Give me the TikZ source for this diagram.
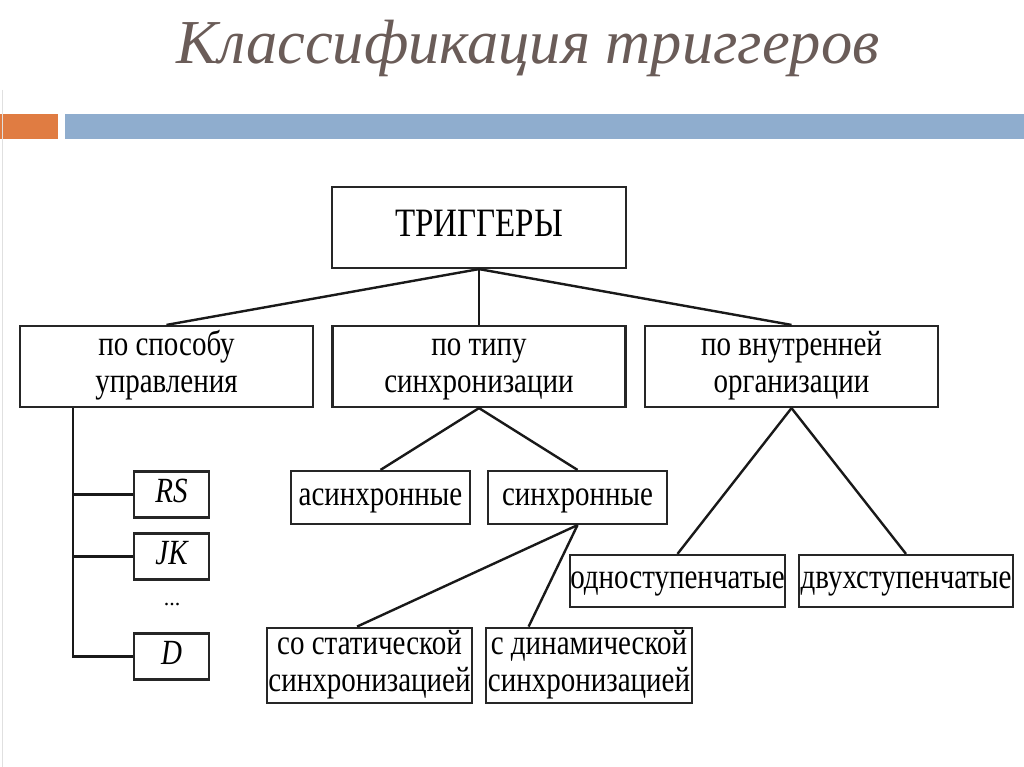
\documentclass[tikz,border=0pt]{standalone}
\usepackage{fontspec}
\usepackage{graphicx}
\setmainfont{Liberation Serif}
\usetikzlibrary{calc}
\definecolor{titlegray}{RGB}{106,92,88}
\definecolor{barorange}{RGB}{224,124,66}
\definecolor{barblue}{RGB}{143,173,206}
% box texts are a little taller than the font
\newcommand{\tall}[1]{\scalebox{1}[1.22]{\begin{tabular}{@{}c@{}}#1\end{tabular}}}
\tikzstyle{box}=[draw=black!85,line width=2.2pt,fill=white,inner sep=0pt,align=center,font=\fontsize{29}{31}\selectfont]
\tikzstyle{bigbox}=[box,minimum width=293pt,minimum height=81pt]
\tikzstyle{letterbox}=[box,minimum width=75pt,minimum height=46pt,font=\fontsize{29}{31}\selectfont\itshape]
\tikzstyle{kindbox}=[box,minimum width=179pt,minimum height=53pt]
\tikzstyle{link}=[draw=black!90,line width=2.4pt]

\begin{document}
\begin{tikzpicture}[x=1pt,y=-1pt]
	\useasboundingbox (0,0) rectangle (1024,767);
	\fill[white] (0,0) rectangle (1024,767);
	% Title and the two bars below it
	\node[anchor=base,text=titlegray,font=\fontsize{62.5}{72}\selectfont\itshape] (title) at (528,64) {Классификация триггеров};
	\fill[barorange] (0,114) rectangle (58,139);
	\fill[barblue] (65,114) rectangle (1024,139);
	\draw[black!12,line width=1pt] (2,90) -- (2,767);

	% First we draw the boxes
	\node[bigbox,minimum width=294pt,font=\fontsize{33}{35}\selectfont] (trig) at (479,227.5) {\tall{ТРИГГЕРЫ}};
	\foreach \pos/\name/\txt in {{(166.5,366.5)/upr/{по способу\\управления}},
		{(479,366.5)/sync/{по типу\\синхронизации}},
		{(791.5,366.5)/org/{по внутренней\\организации}}}
	\node[bigbox] (\name) at \pos {\tall{\txt}};

	\foreach \pos/\name/\txt in {{(171.5,494.5)/rs/RS}, {(171.5,556.5)/jk/JK}, {(171.5,656.5)/d/D}}
	\node[letterbox] (\name) at \pos {\tall{\txt}};
	\node[font=\fontsize{22}{24}\selectfont] (dots) at (172,605) {...};

	\foreach \pos/\name/\txt in {{(380.5,497.5)/async/асинхронные}, {(577.5,497.5)/syn/синхронные}}
	\node[kindbox] (\name) at \pos {\tall{\txt}};
	\node[box,minimum width=205pt,minimum height=75pt] (stat) at (369.5,665.5) {\tall{со статической\\синхронизацией}};
	\node[box,minimum width=206pt,minimum height=75pt] (dyn) at (589,665.5) {\tall{с динамической\\синхронизацией}};
	\node[kindbox,minimum width=213pt,minimum height=52pt] (one) at (677.5,581) {\tall{одноступенчатые}};
	\node[kindbox,minimum width=214pt,minimum height=52pt] (two) at (906,581) {\tall{двухступенчатые}};

	% Connect the boxes
	\foreach \source/\dest in {trig/upr, trig/sync, trig/org, sync/async, sync/syn, org/one, org/two}
	\path[link] (\source.south) -- (\dest.north);
	\path[link] (syn.south) -- ($(stat.north west)!0.44!(stat.north east)$);
	\path[link] (syn.south) -- ($(dyn.north west)!0.21!(dyn.north east)$);

	% Control types hang on one trunk
	\path[link] ([xshift=54pt]upr.south west) coordinate (trunk) |- (d.west);
	\foreach \name in {rs, jk}
	\path[link] (\name.west) -- (\name.west -| trunk);
\end{tikzpicture}
\end{document}
